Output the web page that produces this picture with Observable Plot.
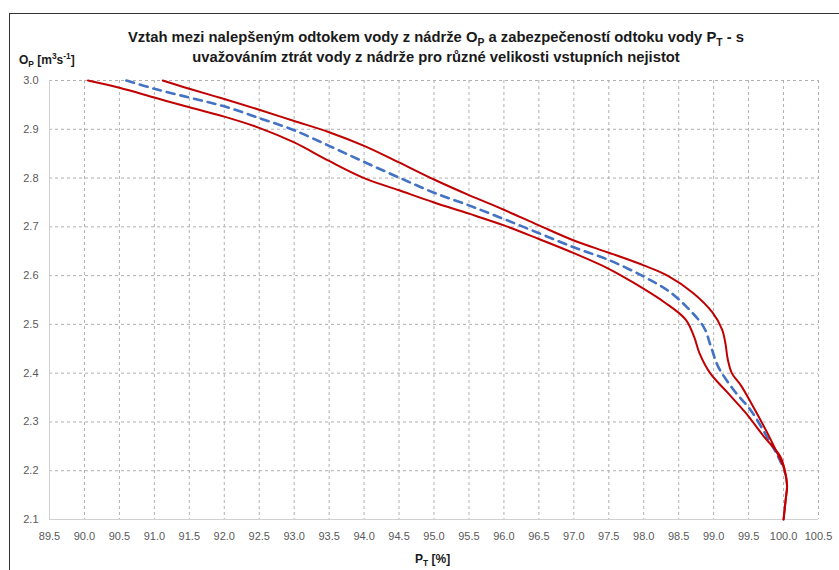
<!DOCTYPE html>
<html>
<head>
<meta charset="utf-8">
<script src="https://cdn.jsdelivr.net/npm/d3@7"></script>
<script src="https://cdn.jsdelivr.net/npm/@observablehq/plot@0.6"></script>
<style>
  html, body { margin: 0; padding: 0; background: #fff; }
  #wrap { position: relative; width: 839px; height: 570px; overflow: hidden; font-family: "Liberation Sans", Arial, sans-serif; }
  #frame { position: absolute; left: 9px; top: 13px; width: 900px; height: 600px; border-left: 1.5px solid #333; border-top: 1.5px solid #333; pointer-events: none; }
  .title { position: absolute; left: 0; width: 872px; text-align: center; font-weight: bold; font-size: 14.8px; color: #1a1a1a; white-space: nowrap; }
  .lab { position: absolute; font-weight: bold; font-size: 12px; color: #1a1a1a; white-space: nowrap; }
  sub, sup { font-size: 0.7em; line-height: 0; }
</style>
</head>
<body>
<div id="wrap">
  <div id="chart"></div>
  <div id="frame"></div>
  <div class="title" style="top:29px">Vztah mezi nalepšeným odtokem vody z nádrže O<sub>P</sub> a zabezpečeností odtoku vody P<sub>T</sub> - s</div>
  <div class="title" style="top:49px">uvažováním ztrát vody z nádrže pro různé velikosti vstupních nejistot</div>
  <div class="lab" style="left:19px; top:53px">O<sub>P</sub> [m<sup>3</sup>s<sup>-1</sup>]</div>
  <div class="lab" style="left:415px; top:552px">P<sub>T</sub> [%]</div>
</div>
<script>
// Tick values
const xTicks = [89.5, 90.0, 90.5, 91.0, 91.5, 92.0, 92.5, 93.0, 93.5, 94.0, 94.5, 95.0, 95.5, 96.0, 96.5, 97.0, 97.5, 98.0, 98.5, 99.0, 99.5, 100.0, 100.5];
const yTicks = [2.1, 2.2, 2.3, 2.4, 2.5, 2.6, 2.7, 2.8, 2.9, 3.0];

// Lower bound (left red curve): P_T [%] and O_P [m3/s]
const lowerPT = [90.05, 90.5, 91.0, 91.5, 92.0, 92.5, 93.0, 93.5, 94.0, 94.5, 95.0, 95.5, 96.0, 96.5, 97.0, 97.5, 97.86, 98.3, 98.6, 98.72, 98.8, 98.95, 99.2, 99.45, 99.72, 99.95, 100.02, 100.05, 100.03, 100.0];
const lowerOP = [3.0, 2.985, 2.965, 2.945, 2.926, 2.903, 2.873, 2.835, 2.800, 2.775, 2.750, 2.727, 2.703, 2.675, 2.646, 2.614, 2.585, 2.545, 2.51, 2.475, 2.44, 2.40, 2.36, 2.32, 2.27, 2.23, 2.20, 2.17, 2.14, 2.10];

// Upper bound (right red curve)
const upperPT = [91.12, 91.5, 92.0, 92.5, 93.0, 93.5, 94.0, 94.5, 95.0, 95.5, 96.0, 96.5, 97.0, 97.5, 98.0, 98.34, 98.71, 98.98, 99.12, 99.17, 99.2, 99.26, 99.39, 99.57, 99.77, 99.91, 100.0, 100.05, 100.03, 100.0];
const upperOP = [3.0, 2.983, 2.962, 2.940, 2.917, 2.894, 2.866, 2.832, 2.797, 2.765, 2.735, 2.703, 2.672, 2.647, 2.621, 2.600, 2.564, 2.525, 2.49, 2.46, 2.43, 2.40, 2.375, 2.33, 2.277, 2.236, 2.207, 2.17, 2.14, 2.10];

// Middle (blue dashed curve)
const midPT = [90.6, 91.0, 91.5, 92.0, 92.5, 93.0, 93.5, 94.0, 94.5, 95.0, 95.5, 96.0, 96.5, 97.0, 97.5, 98.0, 98.34, 98.62, 98.86, 98.96, 99.07, 99.29, 99.53, 99.77, 99.93, 100.0];
const midOP = [3.0, 2.983, 2.965, 2.947, 2.923, 2.898, 2.866, 2.833, 2.801, 2.770, 2.744, 2.716, 2.687, 2.658, 2.632, 2.598, 2.570, 2.535, 2.494, 2.455, 2.412, 2.365, 2.324, 2.268, 2.227, 2.205];

const toRows = (xs, ys) => xs.map((x, i) => ({x, y: ys[i]}));
const lower = toRows(lowerPT, lowerOP);
const upper = toRows(upperPT, upperOP);
const mid = toRows(midPT, midOP);

const chart = Plot.plot({
  width: 839,
  height: 570,
  marginLeft: 49,
  marginRight: 21,
  marginTop: 80,
  marginBottom: 51,
  style: { fontFamily: "Liberation Sans, Arial, sans-serif", fontSize: "11px", color: "#595959", background: "transparent", overflow: "visible" },
  x: { domain: [89.5, 100.5], label: null },
  y: { domain: [2.1, 3.0], label: null },
  marks: [
    Plot.gridX(xTicks, { stroke: "#b0b0b0", strokeOpacity: 1, strokeDasharray: "3,3" }),
    Plot.gridY(yTicks, { stroke: "#b0b0b0", strokeOpacity: 1, strokeDasharray: "3,3" }),
    Plot.ruleY([2.1], { stroke: "#d0d0d0", strokeWidth: 1 }),
    Plot.ruleX([89.5], { stroke: "#d0d0d0", strokeWidth: 1 }),
    Plot.axisX(xTicks, { tickSize: 0, tickPadding: 13, tickFormat: d3.format(".1f"), label: null, fill: "#595959" }),
    Plot.axisY(yTicks, { tickSize: 0, tickPadding: 11, tickFormat: d3.format(".1f"), label: null, fill: "#595959" }),
    Plot.line(mid, { x: "x", y: "y", curve: "catmull-rom", stroke: "#4472c4", strokeWidth: 2.6, strokeDasharray: "8,6" }),
    Plot.line(lower, { x: "x", y: "y", curve: "catmull-rom", stroke: "#c00000", strokeWidth: 2 }),
    Plot.line(upper, { x: "x", y: "y", curve: "catmull-rom", stroke: "#c00000", strokeWidth: 2 })
  ]
});
document.getElementById("chart").appendChild(chart);
</script>
</body>
</html>
